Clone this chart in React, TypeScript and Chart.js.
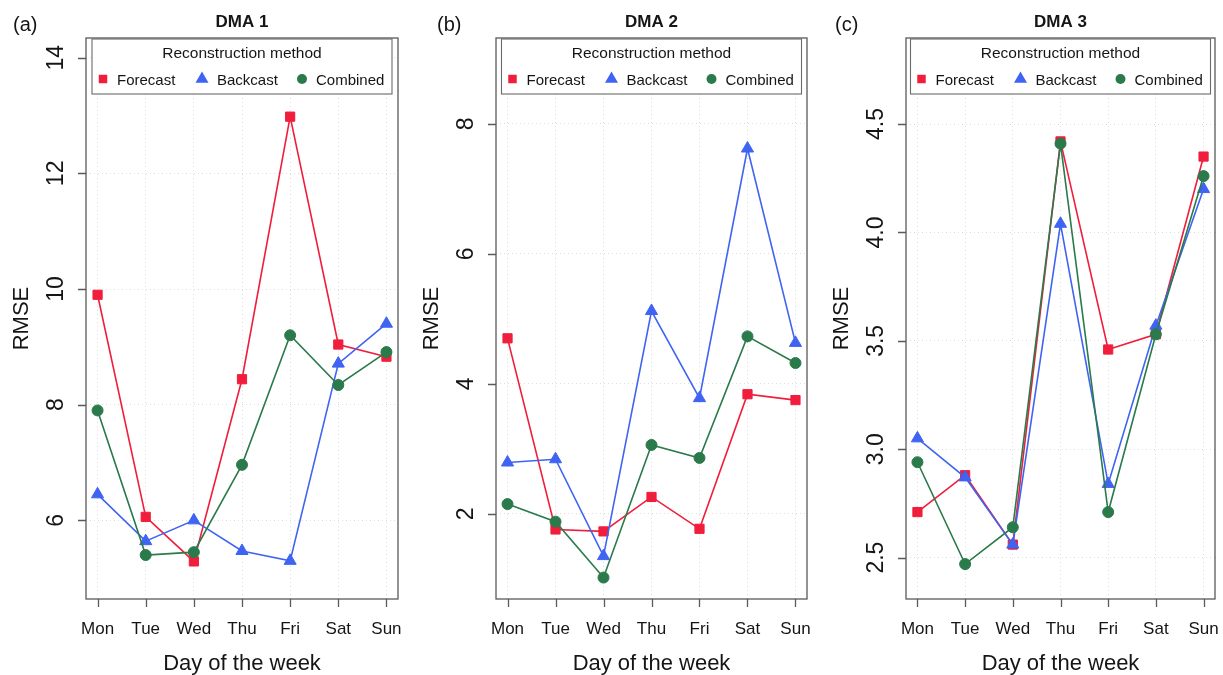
import React, { useEffect, useRef } from 'react';
import { Chart, registerables } from 'chart.js';

Chart.register(...registerables);

// ---------- data ----------
const days = ['Mon', 'Tue', 'Wed', 'Thu', 'Fri', 'Sat', 'Sun'];
const seriesNames = ['Forecast', 'Backcast', 'Combined'];

const dma1Forecast = [9.9, 6.06, 5.29, 8.44, 12.98, 9.04, 8.83];
const dma1Backcast = [6.45, 5.64, 6.0, 5.47, 5.3, 8.71, 9.4];
const dma1Combined = [7.9, 5.4, 5.45, 6.96, 9.2, 8.34, 8.91];
const dma1Ticks = [6, 8, 10, 12, 14];
const dma1TickLabels = ['6', '8', '10', '12', '14'];

const dma2Forecast = [4.7, 1.76, 1.73, 2.26, 1.77, 3.84, 3.75];
const dma2Backcast = [2.79, 2.84, 1.35, 5.12, 3.78, 7.62, 4.63];
const dma2Combined = [2.15, 1.88, 1.02, 3.06, 2.86, 4.73, 4.32];
const dma2Ticks = [2, 4, 6, 8];
const dma2TickLabels = ['2', '4', '6', '8'];

const dma3Forecast = [2.71, 2.88, 2.56, 4.42, 3.46, 3.53, 4.35];
const dma3Backcast = [3.05, 2.87, 2.56, 4.04, 2.84, 3.57, 4.2];
const dma3Combined = [2.94, 2.47, 2.64, 4.41, 2.71, 3.53, 4.26];
const dma3Ticks = [2.5, 3.0, 3.5, 4.0, 4.5];
const dma3TickLabels = ['2.5', '3.0', '3.5', '4.0', '4.5'];

// ---------- styles ----------
const FONT = '"Liberation Sans", Arial, Helvetica, sans-serif';
const colors = ['#F01E3C', '#3F63F2', '#2A7A4B'];
const pointStyles = ['rect', 'triangle', 'circle'];
const pointRadii = [6.5, 7, 5.5];
const TEXT = '#151515';

type PanelCfg = {
  left: number;
  width: number;
  padRight: number;
  letter: string;
  letterX: number;
  title: string;
  series: number[][];
  ticks: number[];
  tickLabels: string[];
  yMin: number;
  yMax: number;
};

function drawMarker(ctx: CanvasRenderingContext2D, style: string, x: number, y: number, r: number) {
  ctx.beginPath();
  if (style === 'rect') {
    const s = Math.SQRT1_2 * r;
    ctx.rect(x - s, y - s, 2 * s, 2 * s);
  } else if (style === 'triangle') {
    for (let k = 0; k < 3; k++) {
      const ang = (k * 2 * Math.PI) / 3;
      const px = x + Math.sin(ang) * r;
      const py = y - Math.cos(ang) * r;
      if (k === 0) ctx.moveTo(px, py);
      else ctx.lineTo(px, py);
    }
    ctx.closePath();
  } else {
    ctx.arc(x, y, r, 0, Math.PI * 2);
  }
  ctx.fill();
}

function makeDecor(cfg: PanelCfg) {
  return {
    id: 'panelDecor',
    afterDraw(chart: any) {
      const { ctx, chartArea: a, scales } = chart;
      const xs = scales.x;
      const ys = scales.y;
      ctx.save();

      // box
      ctx.strokeStyle = '#5a5a5a';
      ctx.lineWidth = 1.3;
      ctx.setLineDash([]);
      ctx.strokeRect(a.left, a.top, a.right - a.left, a.bottom - a.top);

      // tick marks
      ctx.beginPath();
      cfg.ticks.forEach((t) => {
        const y = Math.round(ys.getPixelForValue(t)) + 0.5;
        ctx.moveTo(a.left - 8, y);
        ctx.lineTo(a.left, y);
      });
      days.forEach((_, i) => {
        const x = Math.round(xs.getPixelForValue(i + 1)) + 0.5;
        ctx.moveTo(x, a.bottom);
        ctx.lineTo(x, a.bottom + 8);
      });
      ctx.stroke();

      ctx.fillStyle = TEXT;
      // y tick labels (rotated)
      ctx.font = `23px ${FONT}`;
      ctx.textAlign = 'center';
      ctx.textBaseline = 'alphabetic';
      cfg.ticks.forEach((t, i) => {
        const y = ys.getPixelForValue(t);
        ctx.save();
        ctx.translate(a.left - 23, y);
        ctx.rotate(-Math.PI / 2);
        ctx.fillText(cfg.tickLabels[i], 0, 0);
        ctx.restore();
      });

      // x tick labels
      ctx.font = `17px ${FONT}`;
      days.forEach((d, i) => {
        const x = xs.getPixelForValue(i + 1);
        ctx.fillText(d, x, 634);
      });

      const cx = (a.left + a.right) / 2;
      // axis titles
      ctx.font = `22px ${FONT}`;
      ctx.fillText('Day of the week', cx, 670);
      ctx.save();
      ctx.translate(28, (a.top + a.bottom) / 2);
      ctx.rotate(-Math.PI / 2);
      ctx.fillText('RMSE', 0, 0);
      ctx.restore();

      // title
      ctx.font = `bold 17px ${FONT}`;
      ctx.fillText(cfg.title, cx, 27);

      // panel letter
      ctx.font = `20px ${FONT}`;
      ctx.textAlign = 'left';
      ctx.fillText(cfg.letter, cfg.letterX, 31);

      // legend
      const L = cx - 150;
      const top = a.top + 1;
      ctx.fillStyle = '#ffffff';
      ctx.fillRect(L, top, 300, 55);
      ctx.strokeStyle = '#6a6a6a';
      ctx.lineWidth = 1.1;
      ctx.strokeRect(L, top, 300, 55);
      ctx.fillStyle = TEXT;
      ctx.font = `15.5px ${FONT}`;
      ctx.textAlign = 'center';
      ctx.fillText('Reconstruction method', cx, 58);
      const markerX = [11, 110, 210];
      const textX = [25, 125, 224];
      const legendR = [6, 7.5, 5];
      ctx.textAlign = 'left';
      ctx.font = `15px ${FONT}`;
      seriesNames.forEach((name, i) => {
        ctx.fillStyle = colors[i];
        drawMarker(ctx, pointStyles[i], L + markerX[i], 79, legendR[i]);
        ctx.fillStyle = TEXT;
        ctx.fillText(name, L + textX[i], 85);
      });

      ctx.restore();
    },
  };
}

function Panel({ cfg }: { cfg: PanelCfg }) {
  const ref = useRef<HTMLCanvasElement | null>(null);
  useEffect(() => {
    if (!ref.current) return;
    const datasets = cfg.series.map((vals, si) => ({
      label: seriesNames[si],
      data: vals.map((v, i) => ({ x: i + 1, y: v })),
      borderColor: colors[si],
      backgroundColor: colors[si],
      borderWidth: 1.6,
      pointStyle: pointStyles[si] as any,
      pointRadius: pointRadii[si],
      pointBorderWidth: 1,
      pointBorderColor: colors[si],
      pointBackgroundColor: colors[si],
      tension: 0,
      order: 3 - si,
    }));
    const chart = new Chart(ref.current, {
      type: 'line',
      data: { datasets },
      plugins: [makeDecor(cfg)],
      options: {
        animation: false,
        responsive: false,
        devicePixelRatio: 1,
        clip: false as any,
        layout: { padding: { left: 0, right: cfg.padRight, top: 38, bottom: 0 } },
        plugins: { legend: { display: false }, tooltip: { enabled: false }, title: { display: false } },
        scales: {
          x: {
            type: 'linear',
            min: 0.76,
            max: 7.24,
            afterBuildTicks: (scale: any) => {
              scale.ticks = days.map((_, i) => ({ value: i + 1 }));
            },
            afterFit: (scale: any) => {
              scale.height = 76;
            },
            ticks: { display: false },
            grid: { color: '#dedede', lineWidth: 1, drawTicks: false, drawOnChartArea: true },
            border: { display: false, dash: [1, 3] },
          },
          y: {
            type: 'linear',
            min: cfg.yMin,
            max: cfg.yMax,
            afterBuildTicks: (scale: any) => {
              scale.ticks = cfg.ticks.map((v) => ({ value: v }));
            },
            afterFit: (scale: any) => {
              scale.width = 86;
            },
            ticks: { display: false },
            grid: { color: '#dedede', lineWidth: 1, drawTicks: false, drawOnChartArea: true },
            border: { display: false, dash: [1, 3] },
          },
        },
      },
    });
    return () => chart.destroy();
  }, [cfg]);
  return (
    <div style={{ position: 'absolute', left: cfg.left, top: 0, width: cfg.width, height: 675 }}>
      <canvas ref={ref} width={cfg.width} height={675} style={{ width: cfg.width, height: 675, display: 'block' }} />
    </div>
  );
}

const panels: PanelCfg[] = [
  {
    left: 0, width: 410, padRight: 12, letter: '(a)', letterX: 13, title: 'DMA 1',
    series: [dma1Forecast, dma1Backcast, dma1Combined], ticks: dma1Ticks, tickLabels: dma1TickLabels,
    yMin: 4.64, yMax: 14.34,
  },
  {
    left: 410, width: 410, padRight: 13, letter: '(b)', letterX: 27, title: 'DMA 2',
    series: [dma2Forecast, dma2Backcast, dma2Combined], ticks: dma2Ticks, tickLabels: dma2TickLabels,
    yMin: 0.69, yMax: 9.32,
  },
  {
    left: 820, width: 403, padRight: 5, letter: '(c)', letterX: 15, title: 'DMA 3',
    series: [dma3Forecast, dma3Backcast, dma3Combined], ticks: dma3Ticks, tickLabels: dma3TickLabels,
    yMin: 2.309, yMax: 4.897,
  },
];

export default function App() {
  return (
    <div style={{ position: 'absolute', left: 0, top: 0, width: 1223, height: 675, background: '#ffffff', overflow: 'hidden' }}>
      {panels.map((p) => (
        <Panel key={p.title} cfg={p} />
      ))}
    </div>
  );
}
